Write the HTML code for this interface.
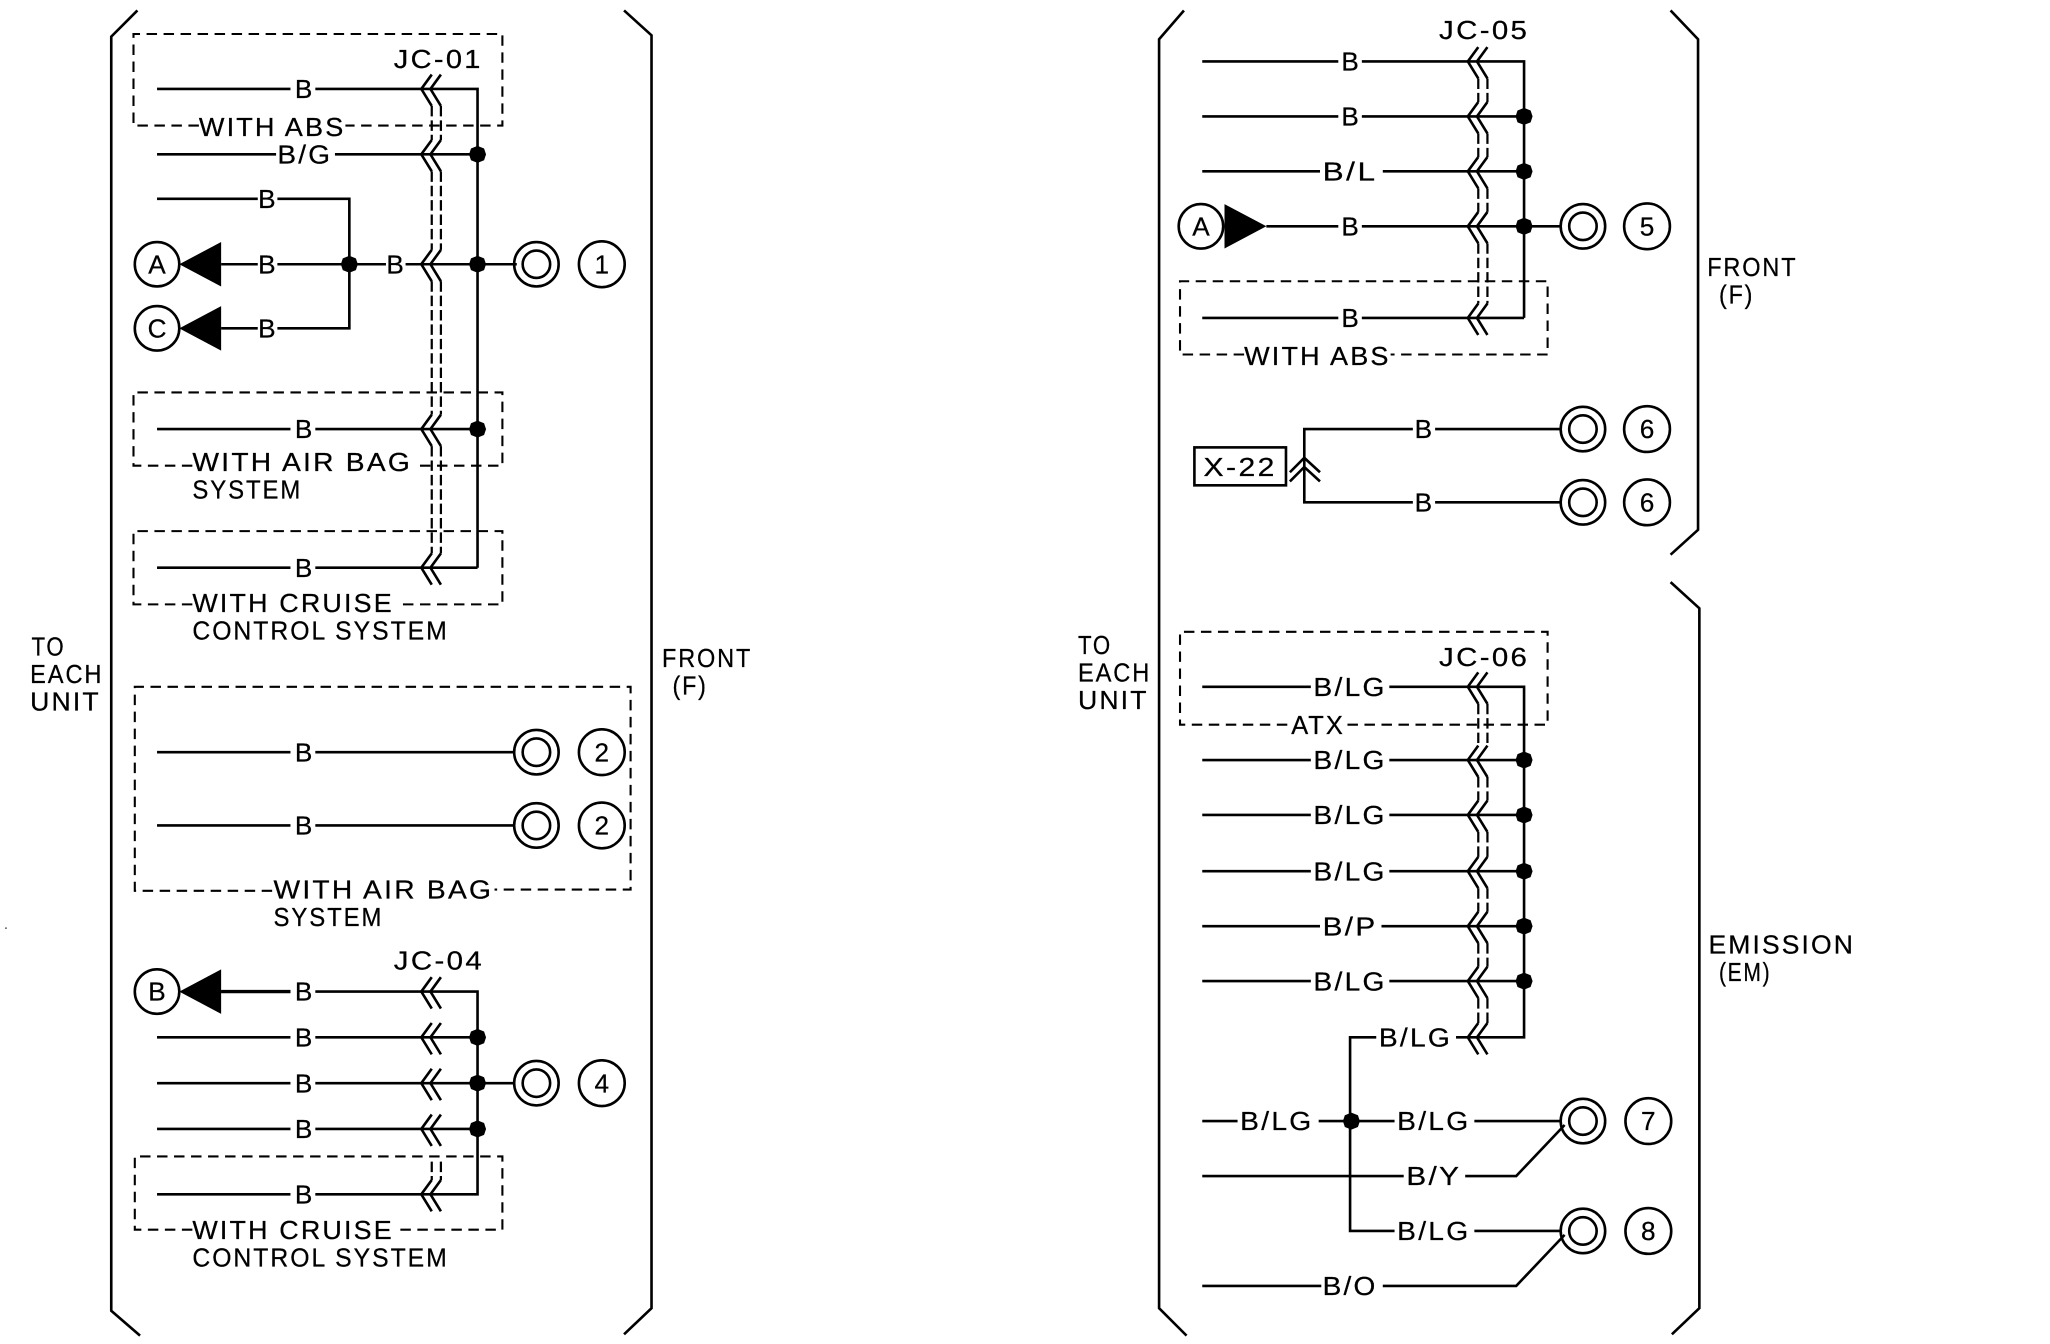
<!DOCTYPE html>
<html><head><meta charset="utf-8"><style>
html,body{margin:0;padding:0;background:#fff}
svg{display:block}
.w{fill:none;stroke:#000;stroke-width:2}
.d{fill:none;stroke:#000;stroke-width:1.6;stroke-dasharray:8 5}
.v{fill:none;stroke:#000;stroke-width:1.7;stroke-dasharray:8 3}
text{font-family:"Liberation Sans",sans-serif;font-size:20px;fill:#000;stroke:#000;stroke-width:.2;letter-spacing:1.6px}
.c{text-anchor:middle;letter-spacing:0}
</style></head><body>
<svg width="2050" height="1344" viewBox="0 0 1567 1027.4" xmlns="http://www.w3.org/2000/svg">
<defs>
<g id="ch" class="w"><path d="M8,-11 L0,0 L8,13"/><path d="M15,-11 L7,0 L15,13"/></g>
<g id="t"><circle r="17" class="w"/><circle r="10.5" class="w"/></g>
<path id="dot" d="M0,-6.5 L5,-4.5 L6.5,0 L5,4.5 L0,6.5 L-5,4.5 L-6.5,0 L-5,-4.5Z"/>
</defs>

<!-- brackets -->
<path class="w" d="M105,8 L85,28 L85,1002 L107,1021"/>
<path class="w" d="M477,8 L498,27 L498,1000 L477,1020"/>
<path class="w" d="M905,8 L886,30 L886,1000 L907,1021"/>
<path class="w" d="M1277,8 L1298,30 L1298,405 L1277,424"/>
<path class="w" d="M1277,445 L1299,465 L1299,1000 L1278,1020"/>

<!-- left dashed boxes -->
<path class="d" d="M152,96 H102 V26 H384 V96 H264"/>
<path class="d" d="M147,356 H102 V300 H384 V356 H320"/>
<path class="d" d="M147,462 H102 V406 H384 V462 H304"/>
<path class="d" d="M208,681 H103 V525 H482 V680 H378"/>
<path class="d" d="M147,940 H103 V884 H384 V940 H304"/>

<!-- left wires block 1 -->
<path class="w" d="M120,68 H222 M241,68 H365 V434 M120,118 H211 M256,118 H365 M120,152 H197 M212,152 H267 V251 H212 M169,202 H197 M212,202 H295 M310,202 H395 M169,251 H197 M120,328 H222 M241,328 H365 M120,434 H222 M241,434 H365"/>
<path class="v" d="M330,81 V107 M337,81 V107 M330,131 V191 M337,131 V191 M330,215 V317 M337,215 V317 M330,341 V423 M337,341 V423"/>
<use href="#ch" x="322" y="68"/><use href="#ch" x="322" y="118"/><use href="#ch" x="322" y="202"/><use href="#ch" x="322" y="328"/><use href="#ch" x="322" y="434"/>
<use href="#dot" x="365" y="118"/><use href="#dot" x="365" y="202"/><use href="#dot" x="365" y="328"/><use href="#dot" x="267" y="202"/>
<circle cx="120" cy="202" r="17" class="w"/><circle cx="120" cy="251" r="17" class="w"/>
<path d="M137,202 L169,185 V219Z"/><path d="M137,251 L169,234 V268Z"/>
<use href="#t" x="410" y="202"/><circle cx="460" cy="202" r="17.5" class="w"/>

<!-- block 2 -->
<path class="w" d="M120,575 H222 M241,575 H394 M120,631 H222 M241,631 H394"/>
<use href="#t" x="410" y="575"/><circle cx="460" cy="575" r="17.5" class="w"/>
<use href="#t" x="410" y="631"/><circle cx="460" cy="631" r="17.5" class="w"/>

<!-- block 3 -->
<path class="w" d="M169,758 H222 M241,758 H365 V913 H241 M120,793 H222 M241,793 H365 M120,828 H222 M241,828 H394 M120,863 H222 M241,863 H365 M120,913 H222"/>
<path class="w" d="M169,758 H222" style="stroke-width:2.6"/>
<use href="#ch" x="322" y="758"/><use href="#ch" x="322" y="793"/><use href="#ch" x="322" y="828"/><use href="#ch" x="322" y="863"/><use href="#ch" x="322" y="913"/>
<path class="v" d="M330,888 V902 M337,888 V902"/>
<use href="#dot" x="365" y="793"/><use href="#dot" x="365" y="828"/><use href="#dot" x="365" y="863"/>
<circle cx="120" cy="758" r="17" class="w"/><path d="M137,758 L169,741 V775Z"/>
<use href="#t" x="410" y="828"/><circle cx="460" cy="828" r="17.5" class="w"/>

<!-- right dashed boxes -->
<path class="d" d="M951,271 H902 V215 H1183 V271 H1063"/>
<path class="d" d="M984,554 H902 V483 H1183 V554 H1030"/>

<!-- right block top -->
<path class="w" d="M919,47 H1023 M1041,47 H1165 V243 M919,89 H1023 M1041,89 H1165 M919,131 H1009 M1057,131 H1165 M968,173 H1023 M1041,173 H1193 M919,243 H1023 M1041,243 H1165"/>
<path class="v" d="M1130,60 V78 M1137,60 V78 M1130,102 V120 M1137,102 V120 M1130,144 V162 M1137,144 V162 M1130,186 V232 M1137,186 V232"/>
<use href="#ch" x="1122" y="47"/><use href="#ch" x="1122" y="89"/><use href="#ch" x="1122" y="131"/><use href="#ch" x="1122" y="173"/><use href="#ch" x="1122" y="243"/>
<use href="#dot" x="1165" y="89"/><use href="#dot" x="1165" y="131"/><use href="#dot" x="1165" y="173"/>
<circle cx="918" cy="173" r="17" class="w"/><path d="M968,173 L936,156 V190Z"/>
<use href="#t" x="1210" y="173"/><circle cx="1259" cy="173" r="17.5" class="w"/>

<!-- X-22 -->
<rect x="913" y="342" width="70" height="29" class="w"/>
<path class="w" d="M1080,328 H997 V384 H1080 M1097,328 H1193 M1097,384 H1193"/>
<path class="w" d="M986,361 L997,350 L1009,361 M986,368 L997,357 L1009,368"/>
<use href="#t" x="1210" y="328"/><circle cx="1259" cy="328" r="17.5" class="w"/>
<use href="#t" x="1210" y="384"/><circle cx="1259" cy="384" r="17.5" class="w"/>

<!-- right block bottom -->
<path class="w" d="M919,525 H1002 M1062,525 H1165 V793 H1113 M919,581 H1002 M1062,581 H1165 M919,623 H1002 M1062,623 H1165 M919,666 H1002 M1062,666 H1165 M919,708 H1009 M1056,708 H1165 M919,750 H1002 M1062,750 H1165 M1052,793 H1032 V941 H1066 M919,857 H946 M1008,857 H1066 M1127,857 H1193 M919,899 H1073 M1120,899 H1159 L1196,860 M1127,941 H1193 M919,983 H1010 M1057,983 H1159 L1196,944"/>
<path class="v" d="M1130,538 V570 M1137,538 V570 M1130,594 V612 M1137,594 V612 M1130,636 V655 M1137,636 V655 M1130,679 V697 M1137,679 V697 M1130,721 V739 M1137,721 V739 M1130,763 V782 M1137,763 V782"/>
<use href="#ch" x="1122" y="525"/><use href="#ch" x="1122" y="581"/><use href="#ch" x="1122" y="623"/><use href="#ch" x="1122" y="666"/><use href="#ch" x="1122" y="708"/><use href="#ch" x="1122" y="750"/><use href="#ch" x="1122" y="793"/>
<use href="#dot" x="1165" y="581"/><use href="#dot" x="1165" y="623"/><use href="#dot" x="1165" y="666"/><use href="#dot" x="1165" y="708"/><use href="#dot" x="1165" y="750"/><use href="#dot" x="1033" y="857"/>
<use href="#t" x="1210" y="857"/><circle cx="1260" cy="857" r="17.5" class="w"/>
<use href="#t" x="1210" y="941"/><circle cx="1260" cy="941" r="17.5" class="w"/>
<rect x="4" y="709" width="1" height="1"/>

<!-- text left -->
<text x="301" y="52" textLength="68" lengthAdjust="spacingAndGlyphs">JC-01</text>
<text x="152" y="104" textLength="112" lengthAdjust="spacingAndGlyphs">WITH ABS</text>
<text class="c" x="232" y="75">B</text>
<text x="212" y="125" textLength="42" lengthAdjust="spacingAndGlyphs">B/G</text>
<text class="c" x="204" y="159">B</text>
<text class="c" x="204" y="209">B</text>
<text class="c" x="204" y="258">B</text>
<text class="c" x="302" y="209">B</text>
<text class="c" x="120" y="209">A</text>
<text class="c" x="120" y="258">C</text>
<text class="c" x="460" y="209">1</text>
<text class="c" x="232" y="335">B</text>
<text x="147" y="360" textLength="168" lengthAdjust="spacingAndGlyphs">WITH AIR BAG</text>
<text x="147" y="381" textLength="84" lengthAdjust="spacingAndGlyphs">SYSTEM</text>
<text class="c" x="232" y="441">B</text>
<text x="147" y="468" textLength="154" lengthAdjust="spacingAndGlyphs">WITH CRUISE</text>
<text x="147" y="489" textLength="196" lengthAdjust="spacingAndGlyphs">CONTROL SYSTEM</text>
<text x="24" y="501" textLength="26" lengthAdjust="spacingAndGlyphs">TO</text>
<text x="23" y="522" textLength="56" lengthAdjust="spacingAndGlyphs">EACH</text>
<text x="23" y="543" textLength="54" lengthAdjust="spacingAndGlyphs">UNIT</text>
<text x="506" y="510" textLength="69" lengthAdjust="spacingAndGlyphs">FRONT</text>
<text x="514" y="531" textLength="27" lengthAdjust="spacingAndGlyphs">(F)</text>
<text class="c" x="232" y="582">B</text>
<text class="c" x="232" y="638">B</text>
<text class="c" x="460" y="582">2</text>
<text class="c" x="460" y="638">2</text>
<text x="209" y="687" textLength="168" lengthAdjust="spacingAndGlyphs">WITH AIR BAG</text>
<text x="209" y="708" textLength="84" lengthAdjust="spacingAndGlyphs">SYSTEM</text>
<text x="301" y="741" textLength="69" lengthAdjust="spacingAndGlyphs">JC-04</text>
<text class="c" x="120" y="765">B</text>
<text class="c" x="232" y="765">B</text>
<text class="c" x="232" y="800">B</text>
<text class="c" x="232" y="835">B</text>
<text class="c" x="232" y="870">B</text>
<text class="c" x="232" y="920">B</text>
<text class="c" x="460" y="835">4</text>
<text x="147" y="947" textLength="154" lengthAdjust="spacingAndGlyphs">WITH CRUISE</text>
<text x="147" y="968" textLength="196" lengthAdjust="spacingAndGlyphs">CONTROL SYSTEM</text>

<!-- text right -->
<text x="1100" y="30" textLength="69" lengthAdjust="spacingAndGlyphs">JC-05</text>
<text class="c" x="1032" y="54">B</text>
<text class="c" x="1032" y="96">B</text>
<text x="1011" y="138" textLength="42" lengthAdjust="spacingAndGlyphs">B/L</text>
<text class="c" x="1032" y="180">B</text>
<text class="c" x="918" y="180">A</text>
<text class="c" x="1259" y="180">5</text>
<text class="c" x="1032" y="250">B</text>
<text x="951" y="279" textLength="112" lengthAdjust="spacingAndGlyphs">WITH ABS</text>
<text x="1305" y="211" textLength="69" lengthAdjust="spacingAndGlyphs">FRONT</text>
<text x="1314" y="232" textLength="27" lengthAdjust="spacingAndGlyphs">(F)</text>
<text x="920" y="364" textLength="56" lengthAdjust="spacingAndGlyphs">X-22</text>
<text class="c" x="1088" y="335">B</text>
<text class="c" x="1088" y="391">B</text>
<text class="c" x="1259" y="335">6</text>
<text class="c" x="1259" y="391">6</text>
<text x="824" y="500" textLength="26" lengthAdjust="spacingAndGlyphs">TO</text>
<text x="824" y="521" textLength="56" lengthAdjust="spacingAndGlyphs">EACH</text>
<text x="824" y="542" textLength="54" lengthAdjust="spacingAndGlyphs">UNIT</text>
<text x="1100" y="509" textLength="69" lengthAdjust="spacingAndGlyphs">JC-06</text>
<text x="1004" y="532" textLength="56" lengthAdjust="spacingAndGlyphs">B/LG</text>
<text x="987" y="561" textLength="41" lengthAdjust="spacingAndGlyphs">ATX</text>
<text x="1004" y="588" textLength="56" lengthAdjust="spacingAndGlyphs">B/LG</text>
<text x="1004" y="630" textLength="56" lengthAdjust="spacingAndGlyphs">B/LG</text>
<text x="1004" y="673" textLength="56" lengthAdjust="spacingAndGlyphs">B/LG</text>
<text x="1011" y="715" textLength="42" lengthAdjust="spacingAndGlyphs">B/P</text>
<text x="1004" y="757" textLength="56" lengthAdjust="spacingAndGlyphs">B/LG</text>
<text x="1054" y="800" textLength="56" lengthAdjust="spacingAndGlyphs">B/LG</text>
<text x="948" y="864" textLength="56" lengthAdjust="spacingAndGlyphs">B/LG</text>
<text x="1068" y="864" textLength="56" lengthAdjust="spacingAndGlyphs">B/LG</text>
<text x="1075" y="906" textLength="42" lengthAdjust="spacingAndGlyphs">B/Y</text>
<text x="1068" y="948" textLength="56" lengthAdjust="spacingAndGlyphs">B/LG</text>
<text x="1011" y="990" textLength="42" lengthAdjust="spacingAndGlyphs">B/O</text>
<text class="c" x="1260" y="864">7</text>
<text class="c" x="1260" y="948">8</text>
<text x="1306" y="729" textLength="112" lengthAdjust="spacingAndGlyphs">EMISSION</text>
<text x="1314" y="750" textLength="40" lengthAdjust="spacingAndGlyphs">(EM)</text>
</svg>
</body></html>
